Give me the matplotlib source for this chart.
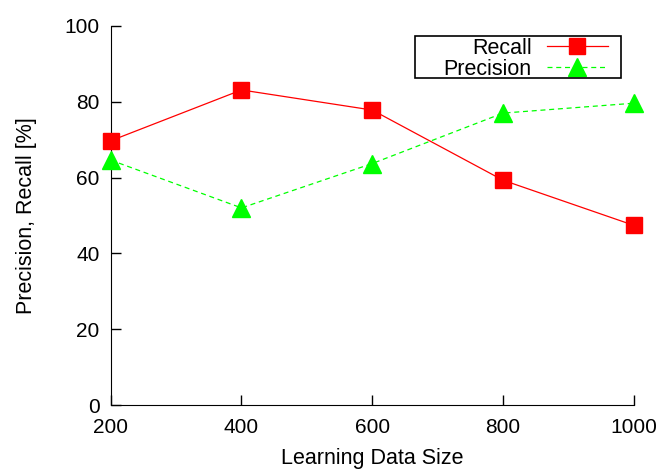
import matplotlib
matplotlib.use("Agg")
import matplotlib.pyplot as plt
from matplotlib.patches import Rectangle

sizes = [200, 400, 600, 800, 1000]
recall = [69.7, 83.1, 77.8, 59.3, 47.4]
precision = [64.6, 52.0, 63.7, 77.0, 79.6]

plt.rcParams["font.family"] = ["Liberation Sans", "DejaVu Sans"]
plt.rcParams["font.size"] = 15

W, H = 663, 470
fig = plt.figure(figsize=(W / 100, H / 100), dpi=100)
ax = fig.add_axes([0.167, 0.138, 0.789, 0.807])

ax.plot(sizes, recall, color="#ff0000", linewidth=0.9, marker="s",
        markersize=11, label="Recall", clip_on=False, zorder=3)
ax.plot(sizes, precision, color="#00ff00", linewidth=0.9, linestyle=(0, (4, 3)),
        marker="^", markersize=13, label="Precision", clip_on=False, zorder=3)

ax.set_xlim(200, 1000)
ax.set_ylim(0, 100)
ax.set_xticks(sizes)
ax.set_yticks(range(0, 101, 20))
ax.tick_params(direction="in", length=7, width=1, pad=9)
ax.tick_params(axis="y", pad=8)
ax.spines["top"].set_visible(False)
ax.spines["right"].set_visible(False)
ax.set_xlabel("Learning Data Size", fontsize=15.5, labelpad=8)
ax.set_ylabel("Precision, Recall [%]", fontsize=15.5, labelpad=20)

# legend without its own frame; gnuplot-style box drawn separately
leg = ax.legend(loc="upper right", bbox_to_anchor=(608 / W, 1 - 38 / H),
                bbox_transform=fig.transFigure, markerfirst=False,
                frameon=False, handlelength=2.85, borderpad=0.0,
                labelspacing=0.0, handletextpad=0.7, borderaxespad=0, fontsize=15.5)
for t in leg.get_texts():
    t.set_ha("right")
fig.add_artist(Rectangle((415 / W, 1 - 78 / H), 206 / W, 42 / H,
                         transform=fig.transFigure, fill=False,
                         edgecolor="black", linewidth=1.2))

fig.savefig("out.png", dpi=100)
